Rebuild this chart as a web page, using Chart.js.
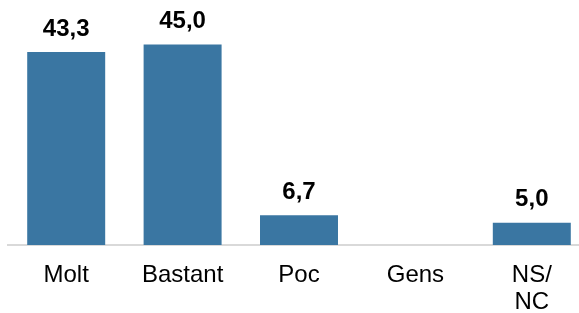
<!DOCTYPE html>
<html>
<head>
<meta charset="utf-8">
<script src="https://cdn.jsdelivr.net/npm/chart.js@4"></script>
<style>
  html, body { margin: 0; padding: 0; background: #fff; overflow: hidden; }
  #wrap { width: 590px; height: 313px; }
</style>
</head>
<body>
<div id="wrap"><canvas id="barChart" width="590" height="313"></canvas></div>
<script>
// Chart data
const categories = ['Molt', 'Bastant', 'Poc', 'Gens', ['NS/', 'NC']];
const values = [43.3, 45.0, 6.7, 0, 5.0];

const barColor = '#3a76a2';
const fontFamily = "'Liberation Sans', Arial, sans-serif";

// Draw the value labels above each bar
const valueLabels = {
    id: 'valueLabels',
    afterDatasetsDraw(chart) {
        const ctx = chart.ctx;
        const meta = chart.getDatasetMeta(0);
        ctx.save();
        ctx.font = 'bold 24px ' + fontFamily;
        ctx.fillStyle = '#000';
        ctx.textAlign = 'center';
        ctx.textBaseline = 'middle';
        meta.data.forEach((bar, i) => {
            const v = values[i];
            if (!v) return;
            ctx.fillText(v.toFixed(1).replace('.', ','), bar.x, bar.y - 23);
        });
        ctx.restore();
    }
};

const ctx = document.getElementById('barChart').getContext('2d');
new Chart(ctx, {
    type: 'bar',
    data: {
        labels: categories,
        datasets: [{
            data: values,
            backgroundColor: barColor,
            borderWidth: 0,
            categoryPercentage: 1,
            barPercentage: 0.67
        }]
    },
    options: {
        responsive: false,
        animation: false,
        layout: {
            padding: { left: 8, right: 0, top: 0, bottom: 0 }
        },
        plugins: {
            legend: { display: false },
            tooltip: { enabled: false }
        },
        scales: {
            x: {
                grid: { display: false, drawTicks: false },
                border: { display: true, color: '#d9d9d9', width: 2 },
                ticks: {
                    color: '#000',
                    padding: 17,
                    maxRotation: 0,
                    font: { family: fontFamily, size: 24, lineHeight: 1.12 }
                },
                afterFit(scale) {
                    scale.height = 68;
                }
            },
            y: {
                display: false,
                min: 0,
                max: 55
            }
        }
    },
    plugins: [valueLabels]
});
</script>
</body>
</html>
